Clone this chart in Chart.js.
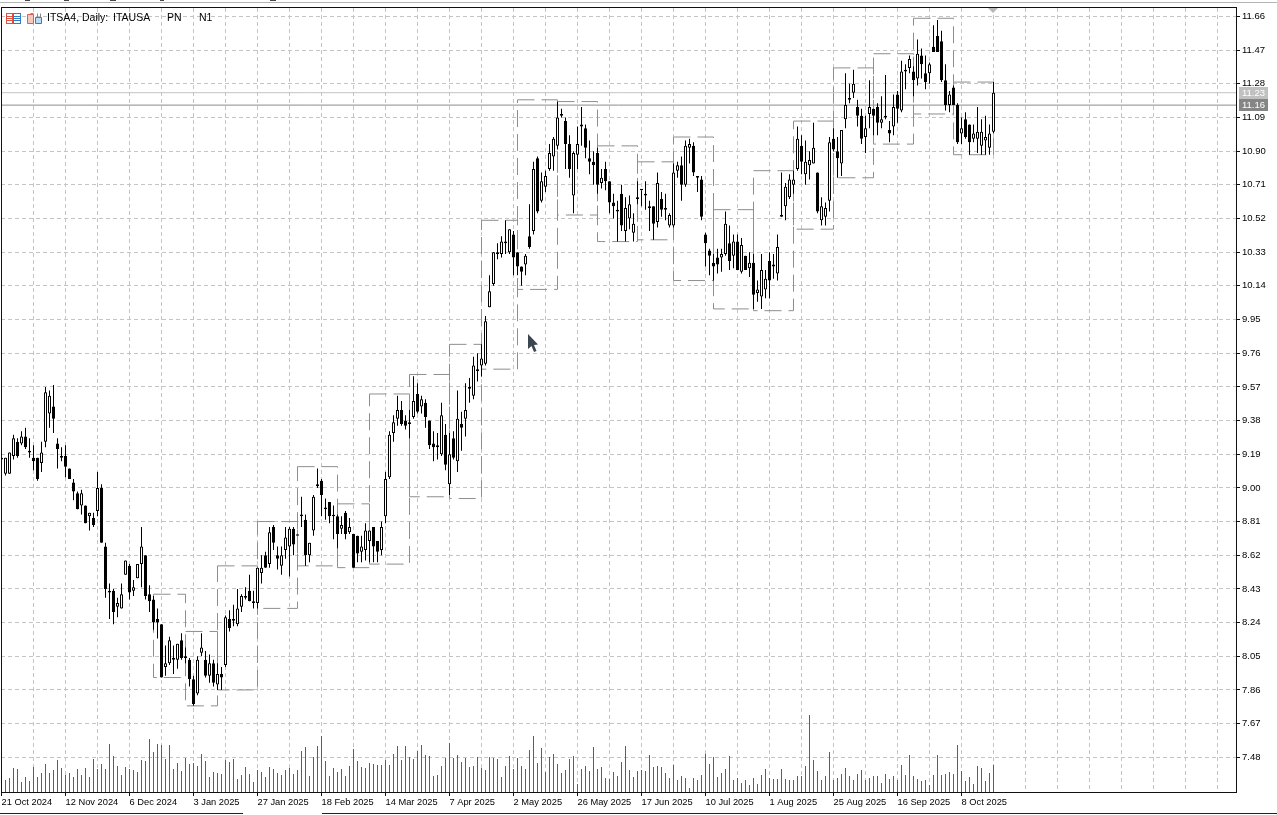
<!DOCTYPE html>
<html lang="en">
<head>
<meta charset="UTF-8">
<title>ITSA4, Daily</title>
<style>
    html, body { margin: 0; padding: 0; background: #fff; overflow: hidden; }
    #wrap { position: relative; width: 1277px; height: 815px; }
    #chart { position: absolute; left: 0; top: 0; }
    svg.chrome { position: absolute; left: 0; top: 0; pointer-events: none; }
</style>
<script src="https://cdn.jsdelivr.net/npm/chart.js"></script>
</head>
<body>
<div id="wrap">
    <canvas id="chart" width="1277" height="815"></canvas>
    <svg class="chrome" width="1277" height="815">
        <!-- window edges -->
        <line x1="0" y1="2.5" x2="1277" y2="2.5" stroke="#b4b4b4"/>
        <path d="M25 0.5h5M64 0.5h5M110 0.5h6M160 0.5h4M270 0.5h6" stroke="#444"/>
        <line x1="0" y1="813.5" x2="243" y2="813.5" stroke="#222"/>
        <line x1="322" y1="813.5" x2="1277" y2="813.5" stroke="#222"/>
        <!-- toolbar icons -->
        <rect x="6.5" y="13.5" width="6" height="10" fill="#fff" stroke="#e0503c"/>
        <path d="M7 16.5h5M7 18.5h5M7 20.5h5" stroke="#e0503c"/>
        <rect x="13.5" y="13.5" width="7" height="10" fill="#fff" stroke="#2f7fc8"/>
        <path d="M14 16.5h6M14 18.5h6M14 20.5h6" stroke="#2f7fc8"/>
        <path d="M27.5 14.5h6v9h-6z" fill="#f6c9c0" stroke="#d9604c"/>
        <path d="M35.5 17.5h6v6h-6z" fill="#bcdcf4" stroke="#2f7fc8"/>
        <path d="M30.5 13.5h3M37.5 13.5v4M40.5 13.5v4" stroke="#888"/>
        <!-- last bar marker and mouse pointer -->
        <polygon points="988,8 998,8 993,13" fill="#b8b8b8"/>
        <polygon points="528,334 528,349 531.5,346 534,352 536.5,351 534,345 538,344.5" fill="#3c4650"/>
    </svg>
</div>
<script>
    const xLabels = ['21 Oct 2024', '12 Nov 2024', '6 Dec 2024', '3 Jan 2025', '27 Jan 2025', '18 Feb 2025',
        '14 Mar 2025', '7 Apr 2025', '2 May 2025', '26 May 2025', '17 Jun 2025', '10 Jul 2025',
        '1 Aug 2025', '25 Aug 2025', '16 Sep 2025', '8 Oct 2025'];

    const yTicks = [7.48, 7.67, 7.86, 8.05, 8.24, 8.43, 8.62, 8.81, 9.00, 9.19, 9.38, 9.57, 9.76, 9.95,
        10.14, 10.33, 10.52, 10.71, 10.90, 11.09, 11.28, 11.47, 11.66];

    const opens = [
        9.17,9.08,9.08,9.18,9.26,9.25,9.29,9.21,9.17,9.17,
        9.14,9.26,9.42,9.46,9.25,9.17,9.18,9.11,9.03,8.97,
        8.90,8.90,8.84,8.83,8.87,9.00,8.67,8.41,8.42,8.33,
        8.32,8.51,8.56,8.42,8.49,8.57,8.62,8.40,8.37,8.26,
        8.23,7.99,8.01,8.04,8.03,8.14,8.05,8.03,7.92,7.84,
        8.07,8.03,7.94,8.01,7.89,7.95,8.00,8.26,8.26,8.23,
        8.33,8.39,8.42,8.36,8.35,8.52,8.62,8.57,8.78,8.62,
        8.56,8.65,8.67,8.77,8.73,8.84,8.82,8.62,8.76,9.02,
        9.04,8.89,8.92,8.84,8.84,8.77,8.86,8.75,8.74,8.73,
        8.64,8.65,8.70,8.78,8.70,8.65,8.84,9.06,9.31,9.39,
        9.44,9.38,9.37,9.40,9.53,9.46,9.48,9.38,9.25,9.24,
        9.19,9.30,9.02,9.28,9.15,9.36,9.39,9.57,9.52,9.66,
        9.69,9.70,10.02,10.15,10.33,10.32,10.38,10.33,10.43,10.33,
        10.25,10.26,10.42,10.45,10.86,10.62,10.70,10.80,10.87,10.93,
        11.11,11.07,10.94,10.65,10.88,11.05,11.03,10.86,10.84,10.89,
        10.72,10.80,10.73,10.61,10.57,10.66,10.45,10.52,10.44,10.64,
        10.68,10.65,10.58,10.59,10.50,10.63,10.58,10.48,10.48,10.79,
        10.82,10.71,10.92,10.93,10.76,10.74,10.43,10.34,10.27,10.30,
        10.30,10.32,10.38,10.31,10.39,10.22,10.31,10.24,10.27,10.10,
        10.08,10.12,10.28,10.26,10.21,10.53,10.59,10.64,10.71,10.80,
        10.93,10.77,10.82,10.83,10.78,10.51,10.53,10.62,10.97,10.90,
        10.83,11.08,11.19,11.23,11.15,11.10,10.98,11.11,11.14,11.15,
        11.06,11.10,11.02,11.04,11.22,11.13,11.35,11.37,11.35,11.31,
        11.44,11.34,11.34,11.49,11.55,11.52,11.30,11.16,11.26,11.16,
        11.00,11.08,11.05,10.97,10.97,10.93,10.96,10.92,11.01];

    const highs = [
        9.17,9.17,9.20,9.30,9.28,9.32,9.34,9.28,9.24,9.17,
        9.26,9.57,9.55,9.58,9.28,9.23,9.24,9.11,9.05,8.98,
        8.99,8.90,8.86,8.86,9.09,9.02,8.69,8.46,8.43,8.38,
        8.46,8.59,8.57,8.48,8.57,8.78,8.62,8.45,8.39,8.32,
        8.23,8.11,8.16,8.11,8.12,8.18,8.10,8.04,7.94,8.05,
        8.18,8.08,8.06,8.03,8.01,7.99,8.28,8.31,8.34,8.43,
        8.40,8.44,8.51,8.42,8.55,8.62,8.64,8.78,8.79,8.67,
        8.67,8.78,8.78,8.78,8.73,8.95,8.85,8.69,8.96,9.11,
        9.05,8.94,8.92,8.90,8.85,8.84,8.87,8.83,8.74,8.73,
        8.73,8.80,8.76,8.78,8.70,8.81,9.09,9.32,9.41,9.52,
        9.49,9.41,9.44,9.63,9.59,9.52,9.50,9.38,9.32,9.31,
        9.48,9.36,9.31,9.32,9.55,9.43,9.59,9.62,9.74,9.76,
        9.81,9.97,10.20,10.33,10.38,10.42,10.51,10.46,10.45,10.33,
        10.25,10.32,10.60,10.84,10.87,10.78,10.79,10.94,10.98,11.18,
        11.14,11.09,10.99,10.90,11.04,11.15,11.05,10.96,10.90,10.92,
        10.80,10.84,10.73,10.66,10.62,10.71,10.64,10.65,10.55,10.73,
        10.68,10.73,10.62,10.59,10.78,10.67,10.66,10.55,10.83,10.84,
        10.87,10.96,10.97,10.95,10.76,10.76,10.44,10.35,10.32,10.35,
        10.35,10.56,10.48,10.43,10.43,10.41,10.31,10.33,10.32,10.17,
        10.32,10.23,10.33,10.32,10.43,10.78,10.72,10.77,10.79,11.04,
        10.99,10.96,10.90,11.06,10.78,10.64,10.61,10.98,11.03,10.98,
        11.02,11.34,11.28,11.36,11.19,11.14,11.10,11.30,11.14,11.17,
        11.21,11.33,11.07,11.22,11.24,11.41,11.39,11.44,11.38,11.53,
        11.48,11.44,11.40,11.61,11.64,11.58,11.39,11.24,11.27,11.17,
        11.09,11.12,11.05,11.05,11.15,11.08,11.10,11.05,11.29];

    const lows = [
        9.16,9.07,9.08,9.16,9.17,9.24,9.22,9.17,9.10,9.04,
        9.09,9.23,9.34,9.31,9.11,9.15,9.06,9.05,8.93,8.88,
        8.85,8.80,8.76,8.78,8.84,8.69,8.38,8.26,8.23,8.27,
        8.32,8.51,8.37,8.39,8.49,8.44,8.37,8.30,8.20,8.15,
        7.93,7.94,8.00,7.95,7.98,8.03,8.01,7.88,7.77,7.83,
        8.05,7.93,7.90,7.88,7.86,7.86,7.99,8.19,8.22,8.22,
        8.30,8.37,8.36,8.32,8.32,8.46,8.55,8.55,8.65,8.54,
        8.51,8.60,8.50,8.62,8.73,8.78,8.56,8.58,8.73,9.00,
        8.84,8.82,8.80,8.71,8.66,8.74,8.71,8.74,8.55,8.58,
        8.58,8.59,8.58,8.58,8.58,8.62,8.80,9.05,9.26,9.35,
        9.35,9.33,9.28,9.39,9.42,9.42,9.34,9.22,9.15,9.16,
        9.18,9.10,8.96,9.16,9.09,9.21,9.29,9.48,9.50,9.60,
        9.63,9.69,10.02,10.14,10.29,10.30,10.32,10.32,10.20,10.20,
        10.14,10.20,10.35,10.43,10.55,10.61,10.67,10.79,10.79,10.91,
        11.09,10.80,10.75,10.55,10.80,10.93,10.86,10.77,10.71,10.66,
        10.69,10.68,10.55,10.52,10.39,10.45,10.39,10.46,10.39,10.60,
        10.59,10.57,10.45,10.40,10.47,10.53,10.51,10.47,10.47,10.75,
        10.62,10.70,10.83,10.76,10.67,10.51,10.25,10.20,10.17,10.21,
        10.22,10.31,10.23,10.24,10.23,10.21,10.23,10.19,10.01,10.05,
        10.01,10.07,10.07,10.18,10.17,10.53,10.51,10.63,10.66,10.79,
        10.77,10.71,10.74,10.83,10.55,10.48,10.48,10.56,10.90,10.75,
        10.76,11.03,11.17,11.20,11.04,10.94,10.89,11.03,10.99,10.99,
        11.03,11.08,10.95,10.99,11.06,11.12,11.25,11.34,11.21,11.27,
        11.31,11.25,11.28,11.46,11.46,11.29,11.13,11.12,11.16,10.94,
        10.94,10.97,10.88,10.95,10.89,10.88,10.88,10.88,11.00];

    const closes = [
        9.16,9.17,9.20,9.28,9.18,9.29,9.23,9.20,9.15,9.05,
        9.20,9.54,9.52,9.39,9.22,9.18,9.12,9.05,8.98,8.88,
        8.97,8.80,8.86,8.79,9.00,8.69,8.43,8.41,8.30,8.35,
        8.40,8.59,8.41,8.44,8.57,8.67,8.39,8.36,8.24,8.24,
        7.93,8.01,8.14,8.03,8.12,8.04,8.04,7.92,7.78,8.03,
        8.10,7.94,8.01,7.90,7.95,7.93,8.27,8.21,8.25,8.32,
        8.39,8.38,8.36,8.35,8.55,8.55,8.55,8.75,8.69,8.60,
        8.62,8.72,8.77,8.68,8.73,8.85,8.62,8.69,8.95,9.01,
        8.96,8.88,8.84,8.84,8.74,8.79,8.74,8.78,8.55,8.63,
        8.67,8.76,8.76,8.67,8.64,8.78,9.05,9.30,9.37,9.44,
        9.36,9.35,9.36,9.49,9.43,9.50,9.40,9.24,9.23,9.23,
        9.41,9.13,9.19,9.17,9.39,9.34,9.44,9.56,9.69,9.67,
        9.73,9.94,10.11,10.33,10.32,10.39,10.39,10.46,10.30,10.25,
        10.22,10.31,10.36,10.80,10.56,10.73,10.76,10.89,10.97,11.09,
        11.10,10.94,10.80,10.89,10.94,11.04,10.92,10.84,10.82,10.71,
        10.75,10.73,10.61,10.59,10.56,10.48,10.58,10.60,10.49,10.63,
        10.68,10.66,10.59,10.49,10.72,10.57,10.57,10.54,10.78,10.82,
        10.71,10.93,10.94,10.78,10.75,10.53,10.38,10.31,10.25,10.26,
        10.32,10.49,10.28,10.39,10.23,10.37,10.23,10.27,10.09,10.12,
        10.23,10.18,10.17,10.25,10.36,10.54,10.70,10.74,10.74,10.97,
        10.84,10.84,10.85,10.92,10.56,10.59,10.58,10.95,10.91,10.86,
        11.02,11.16,11.20,11.28,11.10,10.97,11.03,11.15,11.10,11.06,
        11.08,11.09,11.00,11.15,11.14,11.35,11.36,11.42,11.30,11.45,
        11.39,11.29,11.39,11.46,11.46,11.30,11.16,11.22,11.16,10.95,
        11.03,10.98,10.95,11.00,11.01,11.01,10.98,11.00,11.23];

    const volumes = [
        1200,1200,1400,2400,2300,1000,1500,1100,2500,1500,
        1900,2800,1900,2200,3200,2400,1700,1900,1500,2300,
        1700,2400,1500,3300,2300,2800,2300,4800,3600,2600,
        1700,2500,2300,2200,2000,3200,3100,5300,4000,4800,
        4700,3300,4700,2300,2900,2100,3400,2800,2900,2600,
        3800,3100,1500,2000,1900,1800,3200,3000,3300,1300,
        1700,2500,1800,1000,2200,2000,1500,2500,2300,1900,
        1700,2200,2400,1800,2200,4100,4500,1600,3500,4600,
        5600,3100,1600,2400,2000,2300,1600,2600,4300,3100,
        2500,2400,2900,2800,2700,2700,3200,2700,3800,4600,
        3200,4600,3500,3300,4100,4700,3700,3600,1600,1700,
        2600,3400,4900,3400,3700,3000,3400,2500,2600,3500,
        2400,2200,3500,3400,3300,1500,2600,3600,2300,3400,
        2600,2300,4200,5600,2900,4400,2000,3500,3800,2800,
        1900,2200,3300,3600,800,2300,2600,2100,4500,2300,
        2500,1400,1300,2000,1600,3000,4600,2200,1500,2100,
        2200,2100,3700,2500,2600,2500,1900,1400,2700,1200,
        1600,1400,400,1400,1200,1700,3800,2800,3500,1500,
        1900,2300,3600,1200,1400,900,1200,700,1400,800,
        1700,2300,1400,1300,1300,2300,1300,1200,1200,1600,
        1600,2600,7700,3200,2100,1200,1600,4000,1200,1400,
        1800,2400,1600,1200,1800,2200,1200,1400,1600,1600,
        900,1800,1300,1600,1200,2700,1700,3700,1600,1300,
        1100,1200,700,1700,3700,1700,1800,2000,1800,4700,
        2100,1100,1500,800,2600,2400,1100,1900,2700];

    // monthly high/low boxes, start and end are bar numbers
    const boxStart = [38, 46, 54, 64, 74, 84, 92, 102, 112, 120, 129, 139, 149, 159, 168, 178, 188, 198, 208, 218, 228, 238];
    const boxEnd   = [46, 54, 64, 74, 84, 92, 102, 112, 120, 129, 139, 149, 159, 168, 178, 188, 198, 208, 218, 228, 238, 248];
    const boxHigh  = [8.40, 8.19, 8.56, 8.81, 9.12, 8.91, 9.53, 9.64, 9.81, 10.51, 11.19, 11.18, 10.93, 10.84, 10.98, 10.57, 10.79, 11.07, 11.37, 11.45, 11.65, 11.29];
    const boxLow   = [7.93, 7.77, 7.86, 8.32, 8.56, 8.55, 8.57, 8.95, 8.94, 9.67, 10.12, 10.54, 10.39, 10.40, 10.17, 10.01, 10.00, 10.46, 10.75, 10.94, 11.11, 10.88];

    const askPrice = 11.23;
    const bidPrice = 11.16;

    // axis ranges: 4px per bar, 177.2px per price unit, 1px per 100 volume
    const barMin = -0.125, barMax = 308.625;
    const priceMin = 7.284, priceMax = 11.708;
    const volMax = 78400;

    const FONT = '"Liberation Sans", Arial, sans-serif';
    const GRID = '#c4c4c4';

    const barData = (a, b) => a.map((v, i) => ({ x: i, y: [v, b[i]] }));

    const boxDatasets = boxStart.map((s, i) => ({
        type: 'line',
        data: [
            { x: s, y: boxHigh[i] }, { x: boxEnd[i], y: boxHigh[i] },
            { x: boxEnd[i], y: boxLow[i] }, { x: s, y: boxLow[i] }, { x: s, y: boxHigh[i] }
        ],
        borderColor: '#8e8e8e',
        borderWidth: 1,
        borderDash: [17, 7],
        pointRadius: 0,
        tension: 0,
        order: 5
    }));

    const priceLine = (p, color) => ({
        type: 'line',
        data: [{ x: barMin, y: p }, { x: barMax, y: p }],
        borderColor: color,
        borderWidth: 1,
        pointRadius: 0,
        order: 4
    });

    // frame, symbol caption and the two price tags
    const decor = {
        id: 'decor',
        afterDraw(chart) {
            const { ctx, chartArea: a, scales } = chart;
            ctx.save();
            ctx.strokeStyle = '#111';
            ctx.lineWidth = 1;
            ctx.strokeRect(a.left + 0.5, a.top - 0.5, a.right - a.left, a.bottom - a.top + 1);

            ctx.font = '10.5px ' + FONT;
            ctx.fillStyle = '#000';
            ctx.textBaseline = 'middle';
            ctx.fillText('ITSA4, Daily:', 47, 18.5);
            ctx.fillText('ITAUSA', 113, 18.5);
            ctx.fillText('PN', 167, 18.5);
            ctx.fillText('N1', 199, 18.5);

            ctx.font = '9.5px ' + FONT;
            [[askPrice, '#c0c0c0'], [bidPrice, '#858585']].forEach(([p, color]) => {
                const y = Math.round(scales.y.getPixelForValue(p));
                ctx.fillStyle = color;
                ctx.fillRect(1239, y - 6, 29, 12);
                ctx.fillStyle = '#fff';
                ctx.fillText(p.toFixed(2), 1242, y + 0.5);
            });
            ctx.restore();
        }
    };

    new Chart(document.getElementById('chart'), {
        type: 'bar',
        data: {
            datasets: [
                {
                    data: barData(opens, closes),
                    barThickness: 3,
                    minBarLength: 1.5,
                    grouped: false,
                    inflateAmount: 0,
                    borderWidth: 1,
                    borderSkipped: false,
                    borderColor: '#000',
                    backgroundColor: ctx => closes[ctx.dataIndex] > opens[ctx.dataIndex] ? '#fff' : '#000',
                    order: 1
                },
                {
                    data: barData(lows, highs),
                    barThickness: 1,
                    grouped: false,
                    inflateAmount: 0,
                    backgroundColor: '#000',
                    order: 2
                },
                {
                    data: volumes.map((v, i) => ({ x: i, y: v })),
                    yAxisID: 'vol',
                    barThickness: 1,
                    grouped: false,
                    inflateAmount: 0,
                    backgroundColor: '#1f8a1f',
                    order: 3
                },
                priceLine(askPrice, '#c4c4c4'),
                priceLine(bidPrice, '#8c8c8c'),
                ...boxDatasets
            ]
        },
        options: {
            responsive: false,
            animation: false,
            layout: { padding: { top: 8, left: 1, right: 1, bottom: 0 } },
            plugins: { legend: { display: false }, tooltip: { enabled: false } },
            scales: {
                x: {
                    type: 'linear',
                    min: barMin,
                    max: barMax,
                    offset: false,
                    afterBuildTicks: s => {
                        const t = [];
                        for (let v = 0; v <= 304; v += 8) t.push({ value: v });
                        s.ticks = t;
                    },
                    afterFit: s => { s.height = 23; s.paddingLeft = 0; s.paddingRight = 0; },
                    grid: {
                        offset: false,
                        color: GRID,
                        tickLength: 4,
                        tickColor: ctx => (ctx.tick && ctx.tick.value % 16 === 0 && ctx.tick.value <= 240) ? '#111' : 'rgba(0,0,0,0)'
                    },
                    border: { color: '#111', dash: [4, 3] },
                    ticks: {
                        autoSkip: false,
                        maxRotation: 0,
                        align: 'start',
                        padding: 1,
                        color: '#000',
                        font: { family: FONT, size: 9.3 },
                        callback: v => (v % 16 === 0 && xLabels[v / 16]) || ''
                    }
                },
                y: {
                    position: 'right',
                    min: priceMin,
                    max: priceMax,
                    afterBuildTicks: s => { s.ticks = yTicks.map(v => ({ value: v })); },
                    afterFit: s => { s.width = 40; },
                    grid: { color: GRID, tickLength: 4, tickColor: '#111' },
                    border: { color: '#111', dash: [4, 3] },
                    ticks: {
                        padding: 2,
                        color: '#000',
                        font: { family: FONT, size: 9.5 },
                        callback: v => v.toFixed(2)
                    }
                },
                vol: {
                    display: false,
                    min: 0,
                    max: volMax
                }
            }
        },
        plugins: [decor]
    });
</script>
</body>
</html>
